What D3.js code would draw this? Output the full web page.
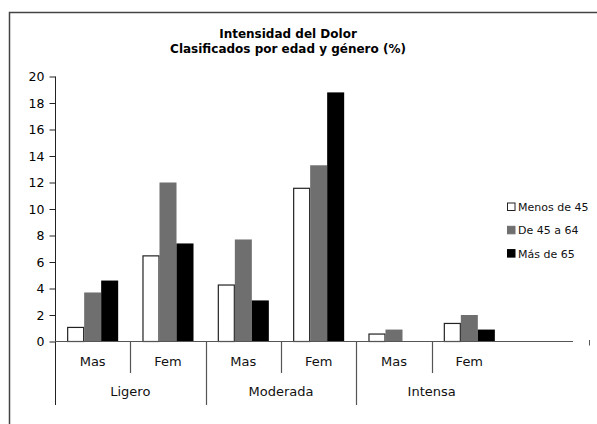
<!DOCTYPE html>
<html>
<head>
<meta charset="utf-8">
<script src="https://cdn.jsdelivr.net/npm/d3@7"></script>
<style>
  html, body { margin: 0; padding: 0; background: #fff; }
  svg { display: block; font-family: "DejaVu Sans", Verdana, sans-serif; }
</style>
</head>
<body>
<svg id="chart" width="597" height="424"></svg>
<script>
// ---- Data ----
const groups = ["Ligero", "Moderada", "Intensa"];
const genders = ["Mas", "Fem"];
const series = ["Menos de 45", "De 45 a 64", "Más de 65"];
const menos45 = [1.1, 6.5, 4.3, 11.6, 0.6, 1.4];
const de45a64 = [3.7, 12.0, 7.7, 13.3, 0.9, 2.0];
const mas65   = [4.6, 7.4, 3.1, 18.8, 0, 0.9];
const yTicks = [0, 2, 4, 6, 8, 10, 12, 14, 16, 18, 20];
const titleLines = ["Intensidad del Dolor", "Clasificados por edad y género (%)"];

const seriesValues = [menos45, de45a64, mas65];
const fills = ["#ffffff", "#6f6f6f", "#000000"];
const strokes = ["#222222", "#6f6f6f", "#000000"];

// Build slots (group x gender)
const slots = [];
groups.forEach(g => genders.forEach(s => slots.push({ key: g + "|" + s, group: g, gender: s })));

const svg = d3.select("#chart");

// Outer frame
svg.append("rect")
  .attr("x", 9.5).attr("y", 12.5)
  .attr("width", 700).attr("height", 600)
  .attr("fill", "none").attr("stroke", "#444").attr("stroke-width", 1.5);

// Scales
const x0 = d3.scaleBand().domain(slots.map(d => d.key)).range([55, 507]).padding(0);
const x1 = d3.scaleBand().domain(series).range([0, x0.bandwidth()]).paddingInner(0).paddingOuter(0.715);
const y = d3.scaleLinear().domain([0, 20]).range([341.5, 76.5]);

// Title
svg.append("g").selectAll("text").data(titleLines).join("text")
  .attr("x", 288).attr("y", (d, i) => 38 + i * 15)
  .attr("text-anchor", "middle")
  .attr("font-weight", "bold").attr("font-size", 12)
  .attr("fill", "#000")
  .text(d => d);

// Bars
const barG = svg.append("g");
series.forEach((s, si) => {
  barG.append("g").selectAll("rect")
    .data(slots.map((sl, i) => ({ slot: sl.key, v: seriesValues[si][i] })).filter(d => d.v > 0))
    .join("rect")
    .attr("x", d => x0(d.slot) + x1(s) + (si === 0 ? 0.5 : 0))
    .attr("y", d => y(d.v) + (si === 0 ? 0.5 : 0))
    .attr("width", x1.bandwidth() - (si === 0 ? 1 : 0))
    .attr("height", d => y(0) - y(d.v) - (si === 0 ? 0.5 : 0))
    .attr("fill", fills[si])
    .attr("stroke", si === 0 ? strokes[si] : "none")
    .attr("stroke-width", 1.2);
});

// Y axis
const yAxis = d3.axisLeft(y).tickValues(yTicks).tickSize(6).tickPadding(5).tickSizeOuter(0);
const yg = svg.append("g").attr("transform", "translate(55.5,0)").call(yAxis);
yg.select(".domain").attr("stroke", "#222").attr("d", "M0," + y(20) + "V405");
yg.selectAll(".tick line").attr("stroke", "#222");
yg.selectAll(".tick text").attr("font-size", 12.5).attr("fill", "#000")
  .attr("font-family", "DejaVu Sans, Verdana, sans-serif");

// X axis baseline
svg.append("line")
  .attr("x1", 55).attr("x2", 573)
  .attr("y1", y(0)).attr("y2", y(0))
  .attr("stroke", "#555").attr("stroke-width", 1.2);

// Stray small tick at right
svg.append("line")
  .attr("x1", 589.5).attr("x2", 589.5)
  .attr("y1", 340).attr("y2", 345.5)
  .attr("stroke", "#555").attr("stroke-width", 1);

// Gender labels
svg.append("g").selectAll("text").data(slots).join("text")
  .attr("x", d => x0(d.key) + x0.bandwidth() / 2)
  .attr("y", 366)
  .attr("text-anchor", "middle")
  .attr("font-size", 13).attr("fill", "#111")
  .text(d => d.gender);

// Group labels
svg.append("g").selectAll("text").data(groups).join("text")
  .attr("x", g => x0(g + "|Mas") + x0.bandwidth())
  .attr("y", 396)
  .attr("text-anchor", "middle")
  .attr("font-size", 13).attr("fill", "#111")
  .text(g => g);

// Dividers: between Mas/Fem (short) and between groups (long)
const divG = svg.append("g").attr("stroke", "#555").attr("stroke-width", 1.2);
groups.forEach((g, gi) => {
  const mid = Math.round(x0(g + "|Fem")) + 0.5;
  divG.append("line").attr("x1", mid).attr("x2", mid).attr("y1", y(0)).attr("y2", 373);
  if (gi > 0) {
    const gx = Math.round(x0(g + "|Mas")) + 0.5;
    divG.append("line").attr("x1", gx).attr("x2", gx).attr("y1", y(0)).attr("y2", 405);
  }
});

// Legend
const legend = svg.append("g").attr("transform", "translate(507,0)");
series.forEach((s, i) => {
  const cy = 207 + i * 23.3;
  legend.append("rect")
    .attr("x", 0.5).attr("y", cy - 4)
    .attr("width", 7.5).attr("height", 7.5)
    .attr("fill", fills[i])
    .attr("stroke", i === 0 ? "#222" : fills[i]).attr("stroke-width", 1);
  legend.append("text")
    .attr("x", 11).attr("y", cy + 4)
    .attr("font-size", 11).attr("fill", "#111")
    .text(s);
});
</script>
</body>
</html>
